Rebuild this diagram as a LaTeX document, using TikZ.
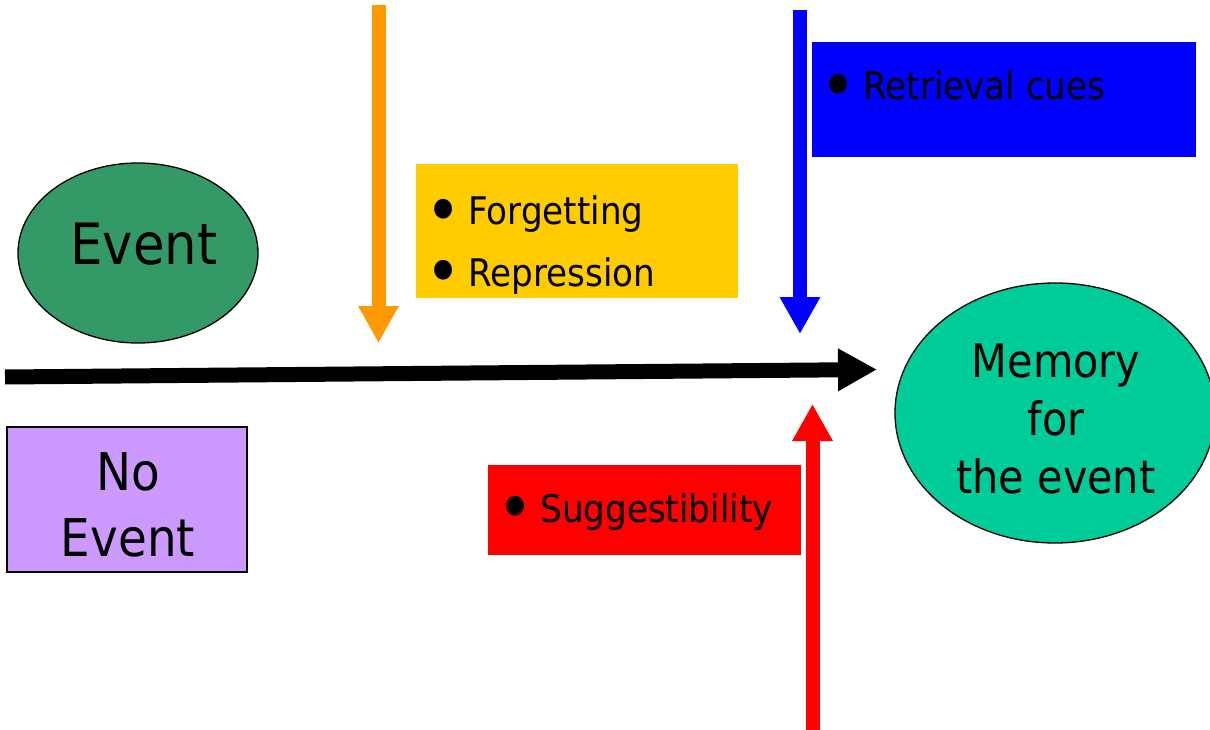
\documentclass[tikz,border=0pt]{standalone}
\usepackage{fontspec}
\setmainfont{DejaVu Sans}[FakeStretch=0.9]
\usetikzlibrary{shapes.geometric,arrows.meta}
\definecolor{evgreen}{HTML}{339966}
\definecolor{memgreen}{HTML}{00CC99}
\definecolor{lilac}{HTML}{CC99FF}
\definecolor{gold}{HTML}{FFCC00}
\definecolor{orng}{HTML}{FF9900}
\definecolor{pblue}{HTML}{0000FF}
\definecolor{pred}{HTML}{FF0000}
\newcommand{\bitem}[1]{\smash{\raisebox{-9.5pt}{\fontsize{68}{68}\selectfont\textbullet}}\hspace{7pt}#1}
\begin{document}
\begin{tikzpicture}[x=1pt,y=-1pt,
  outlined/.style={draw=black, line width=1.3pt, inner sep=0pt},
  plainbox/.style={draw=none, inner sep=0pt, rectangle},
  eventtext/.style={inner sep=0pt, font=\fontsize{57}{66}\selectfont},
  noevtext/.style={inner sep=0pt, align=center, font=\fontsize{52}{66}\selectfont},
  memtext/.style={inner sep=0pt, align=center, font=\fontsize{46}{58}\selectfont},
  listtxt/.style={inner sep=0pt, anchor=base west, font=\fontsize{38}{46}\selectfont},
  flowarrow/.style={line width=14pt, -{Triangle[length=37pt,width=38pt]}},
  mainarrow/.style={line width=15pt, -{Triangle[length=39pt,width=40pt]}}
]
\useasboundingbox (0,0) rectangle (1210,730);
\fill[white] (0,0) rectangle (1210,730);

% shapes
\node[outlined, ellipse, fill=evgreen, minimum width=240pt, minimum height=180pt] (event) at (138,253) {};
\node[eventtext, anchor=base] (eventtxt) at (144,265) {Event};

\node[outlined, rectangle, fill=lilac, minimum width=240pt, minimum height=145pt] (noevent) at (127,499.5) {};
\node[noevtext] (noeventtxt) at (128,505) {No\\Event};

\node[outlined, ellipse, fill=memgreen, minimum width=320pt, minimum height=260pt] (memory) at (1055,413) {};
\node[memtext] (memorytxt) at (1056,419.5) {Memory\\for\\the event};

\node[plainbox, fill=gold, minimum width=322pt, minimum height=134pt] (yellowbox) at (577,231) {};
\node[listtxt] (forg) at (425,225) {\bitem{Forgetting}};
\node[listtxt] (repr) at (425,286) {\bitem{Repression}};

\node[plainbox, fill=pblue, minimum width=384pt, minimum height=115pt] (bluebox) at (1004,99.5) {};
\node[listtxt] (retr) at (820,100) {\bitem{Retrieval cues}};

\node[plainbox, fill=pred, minimum width=313pt, minimum height=90pt] (redbox) at (644.5,510) {};
\node[listtxt] (sugg) at (497,522) {\bitem{Suggestibility}};

% arrows
\coordinate (mainstart) at (5,377);
\coordinate (maintip) at (877,369.5);
\draw[mainarrow, black] (mainstart) -- (maintip);

\coordinate (otop) at (378.5,5);
\coordinate (otip) at (378.5,343);
\draw[flowarrow, orng] (otop) -- (otip);

\coordinate (btop) at (800,10);
\coordinate (btip) at (800,334);
\draw[flowarrow, pblue] (btop) -- (btip);

\coordinate (rbot) at (812.5,731);
\coordinate (rtip) at (812.5,404);
\draw[flowarrow, pred] (rbot) -- (rtip);
\end{tikzpicture}
\end{document}
